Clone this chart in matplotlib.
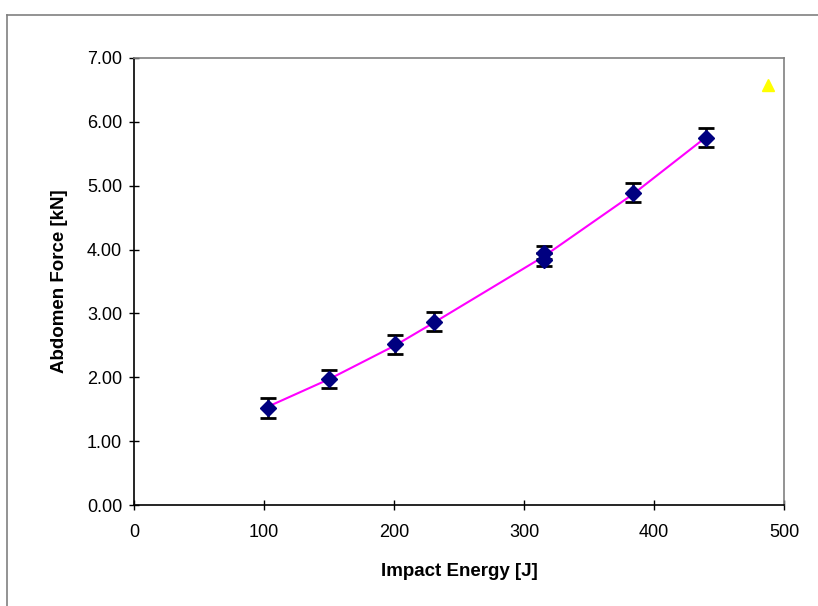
import matplotlib
matplotlib.use("Agg")
import matplotlib.pyplot as plt
from matplotlib.lines import Line2D

plt.rcParams['font.family'] = ['Liberation Sans', 'DejaVu Sans']

energy = [103, 150, 201, 231, 315, 315, 384, 440]
force = [1.52, 1.98, 2.52, 2.87, 3.95, 3.84, 4.89, 5.75]
err = [0.15, 0.14, 0.15, 0.15, 0.10, 0.10, 0.15, 0.15]

fit_x = [103, 150, 201, 231, 315, 384, 440]
fit_y = [1.54, 1.97, 2.50, 2.86, 3.89, 4.87, 5.76]

extra_x = [488]
extra_y = [6.58]

xticks = [0, 100, 200, 300, 400, 500]
yticks = [0, 1, 2, 3, 4, 5, 6, 7]

fig = plt.figure(figsize=(8.18, 6.06), dpi=100)
ax = fig.add_axes([134/818, 101/606, 650/818, 447/606])

ax.plot(fit_x, fit_y, color='#FF00FF', lw=1.5, zorder=2)
ax.errorbar(energy, force, yerr=err, fmt='none', ecolor='black',
            elinewidth=1.8, capsize=6, capthick=2, zorder=3)
ax.plot(energy, force, 'D', color='#000080', markersize=8, zorder=4)
ax.plot(extra_x, extra_y, '^', color='#FFFF00', markersize=9, zorder=4)

ax.set_xlim(0, 500)
ax.set_ylim(0, 7)
ax.set_xticks(xticks)
ax.set_yticks(yticks)
ax.set_xticklabels([str(t) for t in xticks])
ax.set_yticklabels([f"{t:.2f}" for t in yticks])
ax.tick_params(axis='both', direction='inout', length=7, width=1,
               labelsize=13, colors='black')
ax.tick_params(axis='x', pad=10)
ax.tick_params(axis='y', pad=5)

for s in ['left', 'bottom']:
    ax.spines[s].set_color('black')
    ax.spines[s].set_linewidth(1.2)
for s in ['top', 'right']:
    ax.spines[s].set_color('#808080')
    ax.spines[s].set_linewidth(1.2)

ax.set_xlabel('Impact Energy [J]', fontsize=13.5, fontweight='bold', labelpad=16)
ax.set_ylabel('Abdomen Force [kN]', fontsize=13.5, fontweight='bold', labelpad=14)

fig.add_artist(Line2D([7/818, 7/818], [0, 1 - 15/606], transform=fig.transFigure,
                      color='#808080', lw=1.2))
fig.add_artist(Line2D([7/818, 1], [1 - 15/606, 1 - 15/606], transform=fig.transFigure,
                      color='#808080', lw=1.2))

fig.savefig('out.png', dpi=100)
